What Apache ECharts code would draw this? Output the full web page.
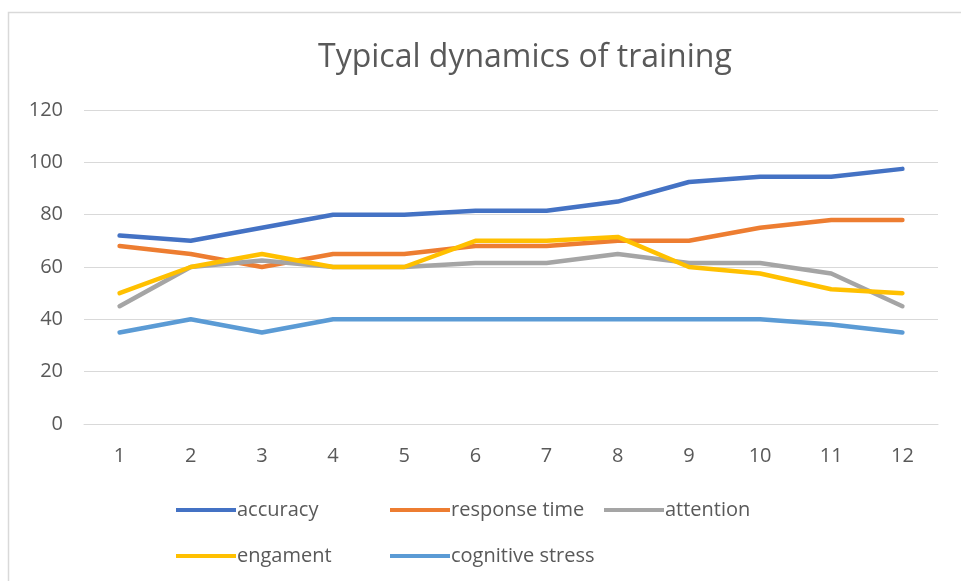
<!DOCTYPE html>
<html>
<head>
<meta charset="utf-8">
<script src="https://cdn.jsdelivr.net/npm/echarts@6/dist/echarts.min.js"></script>
<style>
  html, body { margin: 0; padding: 0; background: #fff; }
  #main { width: 961px; height: 581px; }
</style>
</head>
<body>
<div id="main"></div>
<script>
  // data
  var categories = ['1', '2', '3', '4', '5', '6', '7', '8', '9', '10', '11', '12'];
  var accuracy = [72, 70, 75, 80, 80, 81.5, 81.5, 85, 92.5, 94.5, 94.5, 97.5];
  var responseTime = [68, 65, 60, 65, 65, 68, 68, 70, 70, 75, 78, 78];
  var attention = [45, 60, 62.5, 60, 60, 61.5, 61.5, 65, 61.5, 61.5, 57.5, 45];
  var engagement = [50, 60, 65, 60, 60, 70, 70, 71.5, 60, 57.5, 51.5, 50];
  var cognitiveStress = [35, 40, 35, 40, 40, 40, 40, 40, 40, 40, 38, 35];

  var names = ['accuracy', 'response time', 'attention', 'engament', 'cognitive stress'];
  var colors = ['#4472C4', '#ED7D31', '#A5A5A5', '#FFC000', '#5B9BD5'];
  var values = [accuracy, responseTime, attention, engagement, cognitiveStress];

  var font = '"Open Sans", "DejaVu Sans", sans-serif';
  var textColor = '#595959';

  // legend slots (left, top) like the excel layout
  var legendPos = [[171, 495], [385, 495], [599, 495], [171, 541], [385, 541]];

  var myChart = echarts.init(document.getElementById('main'));

  myChart.setOption({
    animation: false,
    backgroundColor: '#fff',
    color: colors,
    graphic: [{
      type: 'rect',
      shape: { x: 8.5, y: 12.5, width: 970, height: 600 },
      style: { fill: 'none', stroke: '#d9d9d9', lineWidth: 1.5 },
      silent: true
    }],
    title: {
      text: 'Typical dynamics of training',
      left: 313,
      top: 37,
      textStyle: {
        fontFamily: font,
        fontSize: 32,
        fontWeight: 'normal',
        color: textColor
      }
    },
    legend: legendPos.map(function (p, i) {
      return {
        data: [names[i]],
        left: p[0],
        top: p[1],
        icon: 'rect',
        itemWidth: 60,
        itemHeight: 4,
        itemGap: 0,
        textStyle: {
          fontFamily: font,
          fontSize: 20,
          color: textColor,
          padding: [0, 0, 0, -4]
        }
      };
    }),
    grid: {
      left: 84,
      right: 23,
      top: 110,
      bottom: 157,
      containLabel: false
    },
    xAxis: {
      type: 'category',
      data: categories,
      boundaryGap: true,
      axisLine: { lineStyle: { color: '#d9d9d9', width: 1 } },
      axisTick: { show: false },
      axisLabel: {
        fontFamily: font,
        fontSize: 20,
        color: textColor,
        margin: 22
      }
    },
    yAxis: {
      type: 'value',
      min: 0,
      max: 120,
      interval: 20,
      axisLine: { show: false },
      axisTick: { show: false },
      axisLabel: {
        fontFamily: font,
        fontSize: 20,
        color: textColor,
        margin: 21
      },
      splitLine: { lineStyle: { color: '#d9d9d9', width: 1 } }
    },
    series: names.map(function (n, i) {
      return {
        name: n,
        type: 'line',
        data: values[i],
        showSymbol: false,
        symbol: 'none',
        lineStyle: { width: 4.5, color: colors[i], cap: 'round', join: 'round' },
        itemStyle: { color: colors[i] }
      };
    })
  });
</script>
</body>
</html>
